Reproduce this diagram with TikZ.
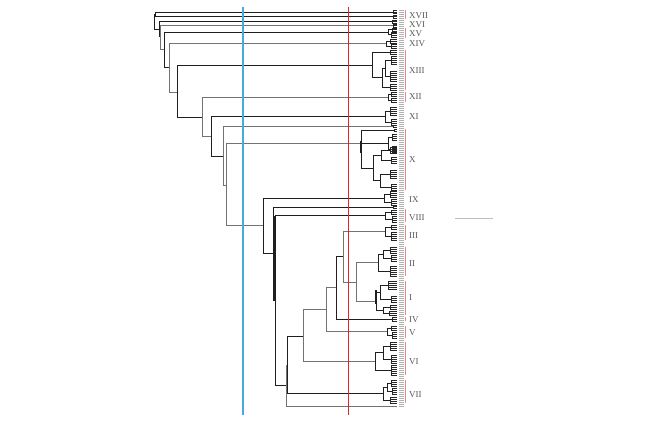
\documentclass[tikz,border=0pt]{standalone}
\usepackage{fontspec}
\setmainfont{Liberation Serif}
\definecolor{cutblue}{RGB}{70,170,222}
\definecolor{cutred}{RGB}{225,40,40}
\definecolor{band}{RGB}{228,140,140}
\tikzset{
    %Define styles for branches
    dk/.style={draw=black!88, line width=1pt},
    lt/.style={draw=black!55, line width=1pt},
    leaf/.style={draw=black!85, line width=0.75pt},
    tip/.style={draw=black!30, line width=0.7pt},
    % Define style for cut lines and cluster bars
    cut/.style={line width=1pt},
    bar/.style={draw=band, line width=0.8pt},
    clabel/.style={
           anchor=west,
           inner sep=0pt,
           font=\fontsize{9}{10}\selectfont,
           text=black!65}
}
% parent at x joining (xa,ya) and (xb,yb)
\newcommand{\elbow}[6][dk]{\draw[#1] (#5,#3) -- (#2,#3) -- (#2,#4) -- (#6,#4);}
% comb of leaves at x from ya to yb
\newcommand{\fan}[4]{%
  \draw[leaf] (#1,#2) -- (#1,#3);
  \foreach \k in {0,...,#4}
    \draw[leaf] (#1,{#2+(#3-#2)*\k/#4}) -- (397,{#2+(#3-#2)*\k/#4});}
\begin{document}
\begin{tikzpicture}[x=1pt,y=-1pt]
\useasboundingbox (0,0) rectangle (650,423);
% backbone
\elbow[dk]{155.5}{12}{16.5}{393}{393}
\elbow[dk]{154}{14.25}{29}{155.5}{159}
\elbow[dk]{159}{21.5}{36.5}{392}{160.3}
\elbow[lt]{160.3}{25.5}{49}{393}{164}
\elbow[dk]{164}{32}{67.5}{388}{169}
\elbow[lt]{169}{43.5}{92}{386}{177}
\elbow[dk]{177}{65}{117}{372}{202}
\elbow[lt]{202}{97}{136.5}{388}{211}
\elbow[dk]{211}{116.5}{156}{385}{223}
\elbow[lt]{223}{126.5}{185}{393}{226}
\elbow[lt]{226}{143}{225.5}{361}{263}
\elbow[dk]{263}{198}{253.5}{384}{273}
\elbow[dk]{273}{207}{300}{393}{275}
\elbow[dk]{275}{215.5}{385.5}{385}{286}
\draw[dk,line width=1.8pt] (275,216) -- (275,300);
\elbow[lt]{286}{365.5}{406}{287}{397}
\elbow[dk]{287}{336}{393.5}{303}{383}
\elbow[lt]{303}{309}{361}{326}{375}
\elbow[lt]{326}{287.5}{331.5}{336}{387}
\elbow[dk]{336}{256}{319}{343}{392}
\elbow[lt]{343}{231.5}{282.5}{385}{356}
\elbow[lt]{356}{262.5}{301}{378}{376}
% XVII, XVI, XV, XIV
\fan{393}{10.5}{13.5}{2}
\fan{393}{15}{18}{2}
\fan{392}{20}{23}{2}
\fan{393}{24}{27}{2}
\elbow{388}{29.5}{34.5}{392}{391}
\fan{392}{28}{31}{2}
\fan{391}{32}{37}{3}
\elbow{386}{41}{46}{390}{391}
\fan{390}{39}{43}{2}
\fan{391}{44}{48}{2}
% XIII
\elbow{372}{52}{77.5}{390}{382}
\fan{390}{50}{54}{2}
\elbow{382}{68}{87}{385}{390}
\elbow{385}{60}{76}{391}{390}
\fan{391}{56}{64}{4}
\fan{390}{71}{81}{5}
\fan{390}{84}{90}{3}
% XII, XI
\elbow{388}{94}{100}{391}{391}
\fan{391}{92}{96}{2}
\fan{391}{98}{102}{2}
\elbow{385}{111}{122}{390}{391}
\fan{390}{107}{115}{4}
\fan{391}{119}{125}{3}
\fan{393}{125.5}{127.5}{1}
% X
\draw[dk] (394,130.5) -- (361,130.5) -- (361,168) -- (373,168);
\draw[dk,line width=2pt] (361,141) -- (361,153);
\draw[dk] (361,143) -- (388,143);
\fan{394}{129.5}{131.5}{1}
\elbow{388}{137}{149}{392}{392}
\fan{392}{134}{140}{3}
\fan{392}{146}{152}{3}
\elbow{373}{155}{180.5}{381}{380}
\elbow{381}{150}{160}{390}{391}
\fan{390}{147}{153}{3}
\fan{391}{157}{163}{3}
\elbow{380}{174}{187}{390}{391}
\fan{390}{170}{178}{4}
\fan{391}{184}{190}{3}
% IX, VIII
\elbow{384}{194}{202}{390}{391}
\fan{390}{191}{197}{3}
\fan{391}{199}{205}{3}
\fan{393}{206}{208}{1}
\elbow{385}{212}{219}{391}{392}
\fan{391}{210}{214}{2}
\fan{392}{216}{222}{3}
% III, II
\elbow{385}{227}{236}{391}{391}
\fan{391}{225}{229}{2}
\fan{391}{232}{240}{4}
\elbow{378}{254}{271}{383}{390}
\elbow{383}{250}{258}{390}{391}
\fan{390}{247}{253}{3}
\fan{391}{255}{261}{3}
\fan{390}{266}{276}{5}
% I, IV, V
\elbow{376}{292}{310}{380}{383}
\draw[dk,line width=1.6pt] (376,290) -- (376,304);
\elbow{380}{285}{299}{388}{391}
\fan{388}{281}{289}{4}
\fan{391}{296}{302}{3}
\elbow{383}{307}{313}{390}{389}
\fan{390}{305}{309}{2}
\fan{389}{311}{315}{2}
\fan{392}{317}{321}{2}
\elbow{387}{328}{335}{391}{392}
\fan{391}{326}{330}{2}
\fan{392}{332}{338}{3}
% VI, VII
\elbow{375}{352.5}{370}{383}{391}
\elbow{383}{346}{359}{390}{391}
\fan{390}{342}{350}{4}
\fan{391}{355}{363}{4}
\fan{391}{365}{375}{5}
\elbow{383}{387}{400}{387}{390}
\elbow{387}{383}{391}{391}{392}
\fan{391}{380}{386}{3}
\fan{392}{388}{394}{3}
\fan{390}{397}{403}{3}
% leaf names and cluster bars
\foreach \y in {10.5,12.5,...,406.5}
  \draw[tip] (399,\y) -- (403.5,\y);
\foreach \a/\b in {10/19,28/38,50/90,92/102,129/190,209/222,225/240,247/276,281/315,317/321,326/338,342/375,380/403}
  \draw[bar] (405.5,\a) -- (405.5,\b);
\foreach \t/\y in {XVII/16,XVI/25,XV/34,XIV/44,XIII/71,XII/97,XI/117,X/160,IX/200,VIII/218,III/236,II/264,I/298,IV/320,V/333,VI/362,VII/395}
  \node[clabel] (l\t) at (409,\y) {\t};
% cut heights
\draw[cut,draw=cutblue,line width=1.1pt] (243,7) -- (243,415);
\draw[cut,draw=cutred] (348.5,7) -- (348.5,415);
\draw[black!25,line width=1pt] (455,218.5) -- (493,218.5);
\end{tikzpicture}
\end{document}
